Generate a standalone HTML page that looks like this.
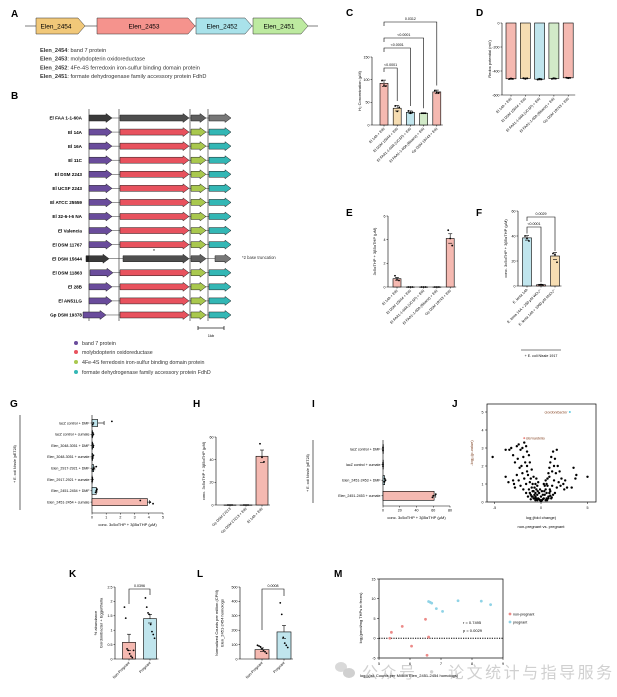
<!DOCTYPE html>
<html><head><meta charset="utf-8"><style>
html,body{margin:0;padding:0;background:#fff;}
svg{display:block;font-family:"Liberation Sans","Noto Sans CJK SC",sans-serif;}
.pl{font-size:10px;font-weight:bold;}
.tk{font-size:3.6px;}
.lb{font-size:4px;}
.bl{font-size:4.6px;font-weight:bold;}
</style></head><body>
<svg id="fig" width="617" height="697" viewBox="0 0 617 697" xmlns="http://www.w3.org/2000/svg">
<rect width="617" height="697" fill="#fff"/>
<!-- Panel A -->
<g>
<text class="pl" x="11" y="17">A</text>
<line x1="25" y1="26" x2="318" y2="26" stroke="#555" stroke-width="0.8"/>
<polygon points="36,18 78,18 85,26 78,34 36,34" fill="#f1c879" stroke="#333" stroke-width="0.5"/>
<text x="56" y="28.5" font-size="6.5" text-anchor="middle">Elen_2454</text>
<polygon points="97,18 188,18 195,26 188,34 97,34" fill="#f5938d" stroke="#333" stroke-width="0.5"/>
<text x="144" y="28.5" font-size="6.5" text-anchor="middle">Elen_2453</text>
<polygon points="196,18 245,18 252,26 245,34 196,34" fill="#a9e2ea" stroke="#333" stroke-width="0.5"/>
<text x="222" y="28.5" font-size="6.5" text-anchor="middle">Elen_2452</text>
<polygon points="253,18 301,18 308,26 301,34 253,34" fill="#bdeaa0" stroke="#333" stroke-width="0.5"/>
<text x="279" y="28.5" font-size="6.5" text-anchor="middle">Elen_2451</text>
<g font-size="5.6" fill="#333">
<text x="40" y="52"><tspan font-weight="bold">Elen_2454</tspan>: band 7 protein</text>
<text x="40" y="60.5"><tspan font-weight="bold">Elen_2453</tspan>: molybdopterin oxidoreductase</text>
<text x="40" y="69.5"><tspan font-weight="bold">Elen_2452</tspan>: 4Fe-4S ferredoxin iron-sulfur binding domain protein</text>
<text x="40" y="78"><tspan font-weight="bold">Elen_2451</tspan>: formate dehydrogenase family accessory protein FdhD</text>
</g>
</g>
<text class="pl" x="11" y="99">B</text>
<g id="panelB"></g>
<g font-size="5.3" fill="#333">
<circle cx="76" cy="343" r="2" fill="#6a4c9c"/><text x="82" y="345">band 7 protein</text>
<circle cx="76" cy="352" r="2" fill="#e8525e"/><text x="82" y="354">molybdopterin oxidoreductase</text>
<circle cx="76" cy="362" r="2" fill="#a9c84e"/><text x="82" y="364">4Fe-4S ferredoxin iron-sulfur binding domain protein</text>
<circle cx="76" cy="372" r="2" fill="#33b7b5"/><text x="82" y="374">formate dehydrogenase family accessory protein FdhD</text>
</g>
<text class="pl" x="346" y="16">C</text>
<text class="pl" x="476" y="16">D</text>
<text class="pl" x="346" y="216">E</text>
<text class="pl" x="476" y="216">F</text>
<text class="pl" x="10" y="407">G</text>
<text class="pl" x="193" y="407">H</text>
<text class="pl" x="312" y="407">I</text>
<text class="pl" x="452" y="407">J</text>
<text class="pl" x="69" y="577">K</text>
<text class="pl" x="197" y="577">L</text>
<text class="pl" x="334" y="577">M</text>
<g opacity="0.55">
<ellipse cx="341" cy="667" rx="6" ry="5" fill="#bbb"/><ellipse cx="349" cy="673" rx="6" ry="5" fill="#aaa"/>
<text x="362" y="678" font-size="16" fill="#aaa" letter-spacing="2.5" font-family="'Noto Sans CJK SC',sans-serif">公众号 · 论文统计与指导服务</text>
</g>
</svg>
<script>
const NS='http://www.w3.org/2000/svg';
const svg=document.getElementById('fig');
function mk(tag,a,p){const e=document.createElementNS(NS,tag);for(const k in a)e.setAttribute(k,a[k]);(p||svg).appendChild(e);return e;}
function tx(s,a,p){const e=mk('text',a,p);e.textContent=s;return e;}

// ---------- Panel B data ----------
const bStrains=['El FAA 1-1-60A','El 14A','El 16A','El 11C','El DSM 2243','El UCSF 2243','El ATCC 25559','El 32-6-I-6 NA','El Valencia','El DSM 11767','El DSM 15644','El DSM 11863','El 28B','El AN51LG','Gp DSM 19378'];
const bGray=[1,0,0,0,0,0,0,0,0,0,1,0,0,0,0];
const bStart=[89,89,89,89,89,89,89,89,89,89,86,90,89,89,83];
const B=document.getElementById('panelB');
[89,119,190,208].forEach(x=>{const l=mk('line',{x1:x,y1:109,x2:x,y2:321,stroke:'#222','stroke-width':0.6},B);});
function arrow(x1,x2,cy,fill,p){const h=x2-6;return mk('polygon',{points:`${x1},${cy-3} ${h},${cy-3} ${h},${cy-4.5} ${x2},${cy} ${h},${cy+4.5} ${h},${cy+3} ${x1},${cy+3}`,fill:fill,stroke:'#222','stroke-width':0.5},p);}
bStrains.forEach((s,i)=>{
 const cy=118+i*14.07;
 const g=mk('g',{},B);
 
 
 const t=tx(s,{x:82,y:cy+1.7,'text-anchor':'end',class:'bl'},g);
 
 
 mk('line',{x1:bStart[i],y1:cy,x2:231,y2:cy,stroke:'#333','stroke-width':0.5},g);
 const gr=bGray[i];
 const off=(i===10)?3:0;
 arrow(bStart[i],bStart[i]+23,cy,gr?'#3a3a3a':'#6a4c9c',g);
 arrow(120+off,189,cy,gr?'#4e4e4e':'#e8525e',g);
 arrow(191,206,cy,gr?'#5e5e5e':'#a9c84e',g);
 arrow(209+off*2,231,cy,gr?'#777':'#33b7b5',g);
 if(i===10){mk('rect',{x:86,y:cy-3,width:3,height:6,fill:'#222'},g);}
});
tx('*',{x:153,y:253,'font-size':5},B);
tx('*2 base truncation',{x:242,y:259,'font-size':4.2,fill:'#333'},B);
mk('line',{x1:198,y1:328,x2:224,y2:328,stroke:'#222','stroke-width':0.8},B);
mk('line',{x1:198,y1:326,x2:198,y2:330,stroke:'#222','stroke-width':0.8},B);
mk('line',{x1:224,y1:326,x2:224,y2:330,stroke:'#222','stroke-width':0.8},B);
tx('1kb',{x:211,y:337,'font-size':4,'text-anchor':'middle'},B);

// ---------- colours ----------
const PK='#f5b9b1',TN='#f6ddb2',BL='#c0e5ed',GN='#d2eac8';

// ---------- Chart data ----------
const cCats=['El 14A + EtN','El DSM 15644 + EtN','El FAA1-1-60A (UCSF) + EtN','El FAA1-1-60A (Bisanz) + EtN','Gp DSM 19743 + EtN'];
const cVals=[92,37,28,26,73];
const cSem=[7,6,3,1,4];
const cPts=[[98,88,86],[42,30,39],[31,26,28],[26,26,26],[76,72,71]];
const cTicks=[0,50,100,150];
const cP=['<0.0001','<0.0001','<0.0001','0.0312'];

const dCats=['El 14A + EtN','El DSM 15644 + EtN','El FAA1-1-60A (UCSF) + EtN','El FAA1-1-60A (Bisanz) + EtN','Gp DSM 19743 + EtN'];
const dVals=[-465,-462,-468,-463,-457];
const dSem=[4,4,6,4,4];
const dPts=[[-468,-462,-466],[-460,-466,-461],[-472,-465,-470],[-466,-460,-464],[-455,-460,-457]];
const dTicks=[0,-200,-400,-600];

const eCats=['El 14A + EtN','El DSM 15644 + EtN','El FAA1-1-60A (UCSF) + EtN','El FAA1-1-60A (Bisanz) + EtN','Gp DSM 19743 + EtN'];
const eVals=[0.7,0,0,0,4.1];
const eSem=[0.12,0,0,0,0.4];
const ePts=[[0.95,0.6,0.55],[0,0,0],[0,0,0],[0,0,0],[4.8,4.1,3.5]];
const eTicks=[0,2,4,6];

const fCats=['E. lenta 14A','E. lenta 14A + 250 μM WO₄²⁻','E. lenta 14A + 1000 μM MoO₄²⁻'];
const fVals=[38.5,1,24];
const fSem=[1.8,0.3,2.8];
const fPts=[[40,38,36],[1,1.2,0.8],[26,25,19]];
const fTicks=[0,20,40,60];
const fP=['<0.0001','0.0029'];

const gCats=['lacZ control + DMF','lacZ control + cumate','Elen_3048-3051 + DMF','Elen_3048-3051 + cumate','Elen_2917-2921 + DMF','Elen_2917-2921 + cumate','Elen_2451-2454 + DMF','Elen_2451-2454 + cumate'];
const gVals=[0.4,0.05,0.05,0.05,0.12,0.02,0.3,3.9];
const gSem=[0.45,0.03,0.03,0.03,0.08,0.02,0.05,0.15];
const gPts=[[1.4,0.1,0.05],[0.05,0.1,0.02],[0.05,0.1,0.08],[0.1,0.05,0.02],[0.3,0.1,0.05],[0.02,0.05,0.01],[0.35,0.3,0.25],[3.4,4.1,4.3]];
const gTicks=[0,1,2,3,4,5];

const hCats=['Gp DSM 27213','Gp DSM 27213 + EtN','El 14A + EtN'];
const hVals=[0,0,43];
const hSem=[0,0,5.5];
const hPts=[[0,0,0],[0,0,0],[54,42,38]];
const hTicks=[0,20,40,60];

const iCats=['lacZ control + DMF','lacZ control + cumate','Elen_2451-2453 + DMF','Elen_2451-2453 + cumate'];
const iVals=[0,0,2,61];
const iSem=[0,0,0.5,2];
const iPts=[[0,0,0],[0,0,0],[2,3,1.5],[63,60,59]];
const iTicks=[0,20,40,60,80];

const kCats=['Non-Pregnant','Pregnant'];
const kVals=[0.58,1.4];
const kSem=[0.28,0.15];
const kPts=[[1.8,1.42,0.35,0.3,0.18,0.1,0.05,0.3],[2.12,1.8,1.6,1.55,1.2,0.95,0.85,0.72]];
const kTicks=[0,0.5,1.0,1.5,2.0,2.5];

const lCats=['Non-Pregnant','Pregnant'];
const lVals=[65,188];
const lSem=[12,45];
const lPts=[[95,90,85,72,60,50,40],[390,310,150,110,95,80]];
const lTicks=[0,100,200,300,400,500];

const jX=[-5.2,-3.8,-3.5,-3.8,-3.4,-3.2,-3.0,-2.8,-2.6,-2.4,-2.2,-2.0,-1.8,-1.6,-1.5,-2.5,-2.3,-2.1,-1.9,-1.7,-1.5,-1.3,-1.2,-1.0,-0.8,-0.6,-0.5,-0.4,-2.6,-2.4,-2.2,-2.0,-1.8,-1.6,-1.4,-1.2,-1.0,-0.8,-3.0,-2.8,-1.6,-1.3,-1.1,-0.9,-0.7,-2.9,-1.9,-1.5,-1.1,-0.9,-0.7,-1.4,-1.2,-0.6,0.4,0.5,0.6,0.7,0.8,0.9,1.0,1.1,1.3,1.5,1.7,1.8,1.6,1.4,1.2,1.0,0.8,2.0,2.2,2.4,2.6,2.8,3.3,3.5,3.8,3.7,5.0,2.5,2.1,1.9,1.7,1.5,1.3,1.1,0.9,1.2,1.4,0.7,0.6,-0.3,-0.2,-0.1,0,0.1,0.2,0.3,-0.4,0.5,-0.5,0,0.2,-0.2,0.35,-0.35,0.6,-0.6,0.1,-0.1,0.4,-0.4,0.5,-0.5,0.3,-0.3,-0.8,-0.7,0.8,0.9,-1.0,1.0,-0.6,0.65,-0.9,0.95,-1.1,1.15];
const jY=[2.5,1.4,1.1,2.9,2.9,3.0,2.6,2.2,3.1,3.2,2.9,3.0,3.3,3.1,2.8,2.4,1.9,2.0,2.5,2.2,2.0,2.6,2.2,1.8,1.4,1.0,0.7,0.4,1.5,1.2,0.9,1.6,1.3,1.0,1.5,1.1,0.8,0.6,1.2,0.8,0.5,0.7,0.4,0.3,0.2,1.0,0.7,1.7,1.3,1.0,0.8,0.3,0.5,0.3,0.4,0.7,1.0,1.3,1.6,1.9,2.2,2.5,2.8,2.4,2.9,2.0,1.6,1.2,0.9,0.6,0.3,1.7,1.3,1.0,1.2,0.8,0.8,1.9,1.5,1.3,1.4,0.7,0.9,1.1,0.8,0.5,0.4,0.2,1.4,1.7,2.0,0.9,0.5,0.2,0.5,0.1,0.3,0.1,0.4,0.2,0.1,0.1,0.2,0.05,0.15,0.15,0.6,0.6,0.2,0.5,0.6,0.7,0.9,0.9,1.2,1.3,1.0,1.1,0.2,0.4,0.2,0.5,0.3,0.35,0.1,0.1,0.6,0.7,0.15,0.25];

const mNX=[5.35,5.4,5.75,6.05,6.5,6.55,6.6];
const mNY=[0,1.5,3,-2,4.8,-4.3,0.3];
const mPX=[6.6,6.65,6.7,6.85,7.05,7.55,8.3,8.6];
const mPY=[9.3,9.1,8.9,7.5,6.8,9.5,9.4,8.5];
const mXT=[5,6,7,8,9];
const mYT=[-5,0,5,10,15];

// ---------- vertical bar chart ----------
function vchart(o,cats,vals,sem,pts,cols,ticks){
 const g=mk('g',{});
 
 
 const Y=v=>o.yB-(v-o.vmin)/(o.vmax-o.vmin)*(o.yB-o.yT);
 const X=i=>o.x0+i*o.step;
 const yl=mk('line',{x1:o.ax,y1:o.yT,x2:o.ax,y2:o.yB,stroke:'#000','stroke-width':0.6},g);
 
 
 const xe=X(cats.length-1)+o.bw/2+2;
 const base=Y(o.base||0);
 const xl=mk('line',{x1:o.ax,y1:o.xAxisY!==undefined?o.xAxisY:o.yB,x2:xe,y2:o.xAxisY!==undefined?o.xAxisY:o.yB,stroke:'#000','stroke-width':0.6},g);
 
 
 ticks.forEach(t=>{
  mk('line',{x1:o.ax-1.5,y1:Y(t),x2:o.ax,y2:Y(t),stroke:'#000','stroke-width':0.5},g);
  const tl=tx(String(t),{x:o.ax-2.5,y:Y(t)+1.3,'text-anchor':'end',class:'tk'},g);
  
  
 });
 const ax=o.xAxisY!==undefined?o.xAxisY:o.yB;
 vals.forEach((v,i)=>{
  const y1=Math.min(Y(v),base),y2=Math.max(Y(v),base);
  const r=mk('rect',{x:X(i)-o.bw/2,y:y1,width:o.bw,height:Math.max(y2-y1,0.3),fill:cols[i],stroke:'#000','stroke-width':0.6},g);
  
  
  const s=sem[i];
  if(s>0){
   const dir=v<0?-1:1;
   mk('line',{x1:X(i),y1:Y(v),x2:X(i),y2:Y(v+dir*s),stroke:'#000','stroke-width':0.6},g);
   mk('line',{x1:X(i)-2,y1:Y(v+dir*s),x2:X(i)+2,y2:Y(v+dir*s),stroke:'#000','stroke-width':0.6},g);
   mk('line',{x1:X(i)-2,y1:Y(v-dir*s),x2:X(i)+2,y2:Y(v-dir*s),stroke:'#000','stroke-width':0.6},g);
  }
  mk('line',{x1:X(i),y1:ax,x2:X(i),y2:ax+1.5,stroke:'#000','stroke-width':0.5},g);
  const n=pts[i].length;
  pts[i].forEach((p,j)=>{
   const dx=(j-(n-1)/2)*(o.jit||2);
   const c=mk('circle',{cx:X(i)+dx,cy:Y(p),r:o.pr||0.9,fill:'#000'},g);
   
   
  });
  const lx=X(i)+1,ly=ax+4;
  const lt=tx(cats[i],{x:lx,y:ly,'text-anchor':'end',class:'tk',transform:`rotate(-45 ${lx} ${ly})`},g);
  
  
 });
 if(o.ylab){
  o.ylab.forEach((s,k)=>{
   const yx=o.ylx+k*5.5,yy=(o.yT+o.yB)/2;
   const t=tx(s,{x:yx,y:yy,'text-anchor':'middle',class:'lb',transform:`rotate(-90 ${yx} ${yy})`},g);
   
   
  });
 }
 return {g,X,Y};
}
function bracket(g,x1,x2,yTop,y1b,y2b,label){
 mk('polyline',{points:`${x1},${y1b} ${x1},${yTop} ${x2},${yTop} ${x2},${y2b}`,fill:'none',stroke:'#000','stroke-width':0.6},g);
 const t=tx(label,{x:(x1+x2)/2,y:yTop-2,'text-anchor':'middle',class:'tk'},g);
 
 
}

// C
const C=vchart({name:'panel-c-h2-chart',ax:372,yB:125,yT:57,vmin:0,vmax:150,x0:384,step:13.2,bw:8,ylx:361,ylab:['H₂ Concentration (μM)']},cCats,cVals,cSem,cPts,[PK,TN,BL,GN,PK],cTicks);
[68,48,38,22].forEach((y,k)=>bracket(C.g,C.X(0),C.X(k+1),y,y+4,C.Y(cPts[k+1][0])-5,cP[k]));
// D
const D=vchart({name:'panel-d-redox-chart',ax:502,yB:95,yT:23,vmin:-600,vmax:0,x0:511,step:14.3,bw:10,ylx:491,ylab:['Redox potential (mV)'],xAxisY:95},dCats,dVals,dSem,dPts,[PK,TN,BL,GN,PK],dTicks);
// E
vchart({name:'panel-e-thp-chart',ax:388,yB:287,yT:216,vmin:0,vmax:6,x0:397,step:13.3,bw:8,ylx:376,ylab:['3c5αTHP + 3β5αTHP (μM)']},eCats,eVals,eSem,ePts,[PK,PK,PK,PK,PK],eTicks);
// F
const F=vchart({name:'panel-f-inhibition-chart',ax:518,yB:286,yT:211,vmin:0,vmax:60,x0:527,step:14,bw:9,ylx:507,ylab:['conc. 3c5αTHP + 3β5αTHP (μM)']},fCats,fVals,fSem,fPts,[BL,PK,TN],fTicks);
bracket(F.g,F.X(0),F.X(1),227,F.Y(42),F.Y(3),fP[0]);
bracket(F.g,F.X(0),F.X(2),217,221,F.Y(28),fP[1]);
mk('line',{x1:521,y1:350,x2:561,y2:350,stroke:'#000','stroke-width':0.6},F.g);
tx('+ E. coli Nissle 1917',{x:541,y:357,'text-anchor':'middle',class:'tk'},F.g);
// H
vchart({name:'panel-h-thp-chart',ax:216,yB:505,yT:437,vmin:0,vmax:60,x0:230,step:16,bw:12,ylx:205,ylab:['conc. 3c5αTHP + 3β5αTHP (μM)']},hCats,hVals,hSem,hPts,[PK,PK,PK],hTicks);
// K
const K=vchart({name:'panel-k-abundance-chart',ax:115,yB:659,yT:587,vmin:0,vmax:2.5,x0:129,step:21,bw:13,ylx:97,jit:1.3,ylab:['% abundance','Gordonibacter + Eggerthella']},kCats,kVals,kSem,kPts,[PK,BL],kTicks);
bracket(K.g,K.X(0),K.X(1),589,604,595,'0.0396');
// L
const L=vchart({name:'panel-l-cpm-chart',ax:240,yB:659,yT:587,vmin:0,vmax:500,x0:262,step:22,bw:14,ylx:218,jit:1.5,ylab:['Normalized Counts per million (CPM)','Elen_2451-2454 homologs']},lCats,lVals,lSem,lPts,[PK,BL],lTicks);
bracket(L.g,L.X(0),L.X(1),589,630,596,'0.0008');

// ---------- horizontal bar charts ----------
function hchart(o,cats,vals,sem,pts,cols,ticks){
 const g=mk('g',{});
 
 
 const X=v=>o.ax+v/o.vmax*(o.xR-o.ax);
 const Y=i=>o.y0+i*o.step;
 mk('line',{x1:o.ax,y1:o.yT,x2:o.ax,y2:o.yB,stroke:'#000','stroke-width':0.6},g);
 mk('line',{x1:o.ax,y1:o.yB,x2:o.xR,y2:o.yB,stroke:'#000','stroke-width':0.6},g);
 ticks.forEach(t=>{
  mk('line',{x1:X(t),y1:o.yB,x2:X(t),y2:o.yB+1.5,stroke:'#000','stroke-width':0.5},g);
  const tl=tx(String(t),{x:X(t),y:o.yB+5.5,'text-anchor':'middle',class:'tk'},g);
  
  
 });
 vals.forEach((v,i)=>{
  const r=mk('rect',{x:o.ax,y:Y(i)-o.bh/2,width:Math.max(X(v)-o.ax,0.3),height:o.bh,fill:cols[i],stroke:'#000','stroke-width':0.6},g);
  
  
  if(sem[i]>0){
   mk('line',{x1:X(v),y1:Y(i),x2:X(v+sem[i]),y2:Y(i),stroke:'#000','stroke-width':0.6},g);
   mk('line',{x1:X(v+sem[i]),y1:Y(i)-2,x2:X(v+sem[i]),y2:Y(i)+2,stroke:'#000','stroke-width':0.6},g);
  }
  mk('line',{x1:o.ax-1.5,y1:Y(i),x2:o.ax,y2:Y(i),stroke:'#000','stroke-width':0.5},g);
  const n=pts[i].length;
  pts[i].forEach((p,j)=>{
   const c=mk('circle',{cx:X(p),cy:Y(i)+(j-(n-1)/2)*1.6,r:0.9,fill:'#000'},g);
   
   
  });
  const lt=tx(cats[i],{x:o.ax-2.5,y:Y(i)+1.3,'text-anchor':'end',class:'tk'},g);
  
  
 });
 const xt=tx(o.xlab,{x:(o.ax+o.xR)/2,y:o.yB+13,'text-anchor':'middle',class:'lb'},g);
 
 
 mk('line',{x1:o.brX,y1:o.yT,x2:o.brX,y2:o.yB-3,stroke:'#000','stroke-width':0.6},g);
 const bx=o.brX-4,by=(o.yT+o.yB)/2;
 const bt=tx(o.brLab,{x:bx,y:by,'text-anchor':'middle',class:'tk',transform:`rotate(-90 ${bx} ${by})`},g);
 
 
 return g;
}
hchart({name:'panel-g-thp-chart',ax:92,xR:163,vmax:5,y0:423,step:11.3,bh:7,yT:415,yB:513,brX:20,brLab:'+ E. coli Nissle (pET28)',xlab:'conc. 3c5αTHP + 3β5αTHP (μM)'},gCats,gVals,gSem,gPts,[BL,BL,BL,BL,BL,BL,BL,PK],gTicks);
hchart({name:'panel-i-thp-chart',ax:383,xR:450,vmax:80,y0:449,step:15.6,bh:9,yT:440,yB:506,brX:313,brLab:'+ E. coli Nissle (pET28)',xlab:'conc. 3c5αTHP + 3β5αTHP (μM)'},iCats,iVals,iSem,iPts,[BL,BL,BL,PK],iTicks);

// ---------- J volcano ----------
(function(){
 const g=mk('g',{});
 
 
 const X=v=>541+v*9.3, Y=v=>502-v*18;
 mk('rect',{x:487,y:404,width:109,height:98,fill:'none',stroke:'#000','stroke-width':0.7},g);
 [-5,0,5].forEach(t=>{mk('line',{x1:X(t),y1:502,x2:X(t),y2:504,stroke:'#000','stroke-width':0.5},g);const l=tx(String(t),{x:X(t),y:509,'text-anchor':'middle',class:'tk'},g);});
 [0,1,2,3,4,5].forEach(t=>{mk('line',{x1:485,y1:Y(t),x2:487,y2:Y(t),stroke:'#000','stroke-width':0.5},g);const l=tx(String(t),{x:483.5,y:Y(t)+1.3,'text-anchor':'end',class:'tk'},g);});
 jX.forEach((x,i)=>{
  const c=mk('circle',{cx:X(x),cy:Y(jY[i]),r:1.2,fill:'#000'},g);
  
  
 });
 const go=mk('circle',{cx:X(3.1),cy:Y(5.0),r:1,fill:'#5bc8e0'},g);
 
 
 tx('Gordonibacter',{x:X(3.1)-2.5,y:Y(5.0)+1.3,'text-anchor':'end',class:'tk','font-style':'italic',fill:'#8a4b2b'},g);
 const be=mk('circle',{cx:X(-1.8),cy:Y(3.55),r:1,fill:'#e9857f'},g);
 
 
 tx('Bernardella',{x:X(-1.8)+2,y:Y(3.55)+1.3,class:'tk','font-style':'italic',fill:'#8a4b2b'},g);
 const yt=tx('-log₁₀(p-value)',{x:473,y:453,'text-anchor':'middle',class:'lb',transform:'rotate(-90 473 453)',fill:'#7a3b1b'},g);
 
 
 const xt=tx('log₂(fold change)',{x:541,y:519,'text-anchor':'middle',class:'lb'},g);
 
 
 tx('non-pregnant vs. pregnant',{x:541,y:528,'text-anchor':'middle',class:'lb'},g);
})();

// ---------- M scatter ----------
(function(){
 const g=mk('g',{});
 
 
 const X=v=>379+(v-5)*31, Y=v=>658-(v+5)*3.95;
 mk('rect',{x:379,y:579,width:124,height:79,fill:'none',stroke:'#000','stroke-width':0.7},g);
 mXT.forEach(t=>{mk('line',{x1:X(t),y1:658,x2:X(t),y2:660,stroke:'#000','stroke-width':0.5},g);const l=tx(String(t),{x:X(t),y:665,'text-anchor':'middle',class:'tk'},g);});
 mYT.forEach(t=>{mk('line',{x1:377,y1:Y(t),x2:379,y2:Y(t),stroke:'#000','stroke-width':0.5},g);const l=tx(String(t),{x:375.5,y:Y(t)+1.3,'text-anchor':'end',class:'tk'},g);});
 const zl=mk('line',{x1:379,y1:Y(0),x2:503,y2:Y(0),stroke:'#000','stroke-width':0.9,'stroke-dasharray':'1.2,1.2'},g);
 
 
 mNX.forEach((x,i)=>{const c=mk('circle',{cx:X(x),cy:Y(mNY[i]),r:1.4,fill:'#ec8a88'},g);});
 mPX.forEach((x,i)=>{const c=mk('circle',{cx:X(x),cy:Y(mPY[i]),r:1.4,fill:'#8fd3e6'},g);});
 tx('r = 0.7495',{x:463,y:624,class:'lb'},g);
 tx('p = 0.0029',{x:463,y:632,class:'lb'},g);
 const l1=mk('circle',{cx:510,cy:614,r:1.4,fill:'#ec8a88'},g);
 
 
 tx('non-pregnant',{x:513,y:615.5,class:'tk'},g);
 const l2=mk('circle',{cx:510,cy:622,r:1.4,fill:'#8fd3e6'},g);
 
 
 tx('pregnant',{x:513,y:623.5,class:'tk'},g);
 const yt=tx('log₂(pmol/mg THPs in feces)',{x:362,y:618,'text-anchor':'middle',class:'lb',transform:'rotate(-90 362 618)'},g);
 
 
 const xt=tx('log₁₀(ist. Counts per Million Elen_2451-2454 homologs)',{x:360,y:677,class:'lb'},g);
 
 
})();
</script>
</body></html>
